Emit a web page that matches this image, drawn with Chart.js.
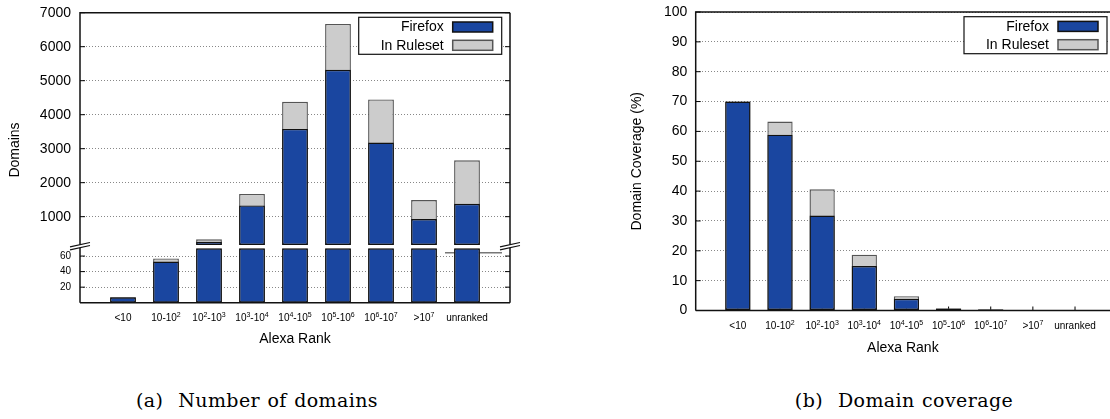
<!DOCTYPE html>
<html>
<head>
<meta charset="utf-8">
<script src="https://cdn.jsdelivr.net/npm/chart.js@4/dist/chart.umd.min.js"></script>
<style>
  body { margin: 0; width: 1110px; height: 419px; background: #fff; position: relative; overflow: hidden; }
  #left { position: absolute; left: 0; top: 0; width: 540px; height: 350px; }
  #right { position: absolute; left: 600px; top: 0; width: 510px; height: 360px; }
  .cap { position: absolute; top: 389px; font-family: 'DejaVu Serif', serif; font-size: 19px;
         letter-spacing: 0.4px; word-spacing: 1px; transform: translateX(-50%); white-space: pre; color: #000; }
</style>
</head>
<body>
<canvas id="left" width="540" height="350"></canvas>
<canvas id="right" width="510" height="360"></canvas>
<div class="cap" style="left:257px">(a)  Number of domains</div>
<div class="cap" style="left:904px">(b)  Domain coverage</div>
<script>
// categories
const RANKS = ['<10', '10-10²', '10²-10³', '10³-10⁴', '10⁴-10⁵', '10⁵-10⁶', '10⁶-10⁷', '>10⁷', 'unranked'];

// (a) number of domains
const firefoxDomains = [7, 53, 265, 1330, 3580, 5320, 3180, 930, 1380];
const rulesetDomains = [7, 57, 335, 1670, 4380, 6670, 4450, 1490, 2660];

// (b) domain coverage in %
const firefoxCoverage = [70, 58.9, 31.8, 14.9, 3.9, 0.6, 0.3, 0, 0];
const rulesetCoverage = [70, 63.3, 40.6, 18.7, 4.8, 0.75, 0.45, 0, 0];

// tick labels
const domainTicksHigh = [1000, 2000, 3000, 4000, 5000, 6000, 7000];
const domainTicksLow = [20, 40, 60];
const coverageTicks = [0, 10, 20, 30, 40, 50, 60, 70, 80, 90, 100];

// broken axis ranges
const LOW_MAX = 70;      // lower panel 0..70
const HIGH_MIN = 70;     // upper panel axis start
const HIGH_FLOOR = 170;  // where upper bars start
const HIGH_MAX = 7000;

const BLUE = '#1a46a0';
const GRAY = '#cccccc';
const SANS = "'Liberation Sans', Arial, sans-serif";
const SUP = { '²': '2', '³': '3', '⁴': '4', '⁵': '5', '⁶': '6', '⁷': '7' };

Chart.defaults.font.family = SANS;
Chart.defaults.color = '#000';
Chart.defaults.animation = false;

const lowPart = vals => vals.map((v, i) => ({ x: i, y: Math.min(v, LOW_MAX) }));
const highPart = vals => vals.map((v, i) => ({ x: i, y: v > HIGH_FLOOR ? [HIGH_FLOOR, v] : null }));
const points = vals => vals.map((v, i) => ({ x: i, y: v }));

const barStyle = (label, color, border) => ({
  label, backgroundColor: color, borderColor: border, borderWidth: 1.4,
  borderSkipped: false, grouped: false, barPercentage: 0.6, categoryPercentage: 1
});

// category label with real exponents: "10-10²" -> 10-10 + raised 2
function drawRankLabel(ctx, text, cx, baseline) {
  const runs = [];
  for (const ch of text) {
    const sup = ch in SUP;
    const last = runs[runs.length - 1];
    const c = sup ? SUP[ch] : ch;
    if (last && last.sup === sup) last.text += c;
    else runs.push({ sup, text: c });
  }
  const fontOf = r => (r.sup ? '7px ' : '10px ') + SANS;
  let w = 0;
  runs.forEach(r => { ctx.font = fontOf(r); r.w = ctx.measureText(r.text).width; w += r.w; });
  let x = cx - w / 2;
  ctx.textAlign = 'left';
  ctx.textBaseline = 'alphabetic';
  runs.forEach(r => {
    ctx.font = fontOf(r);
    ctx.fillText(r.text, x, baseline - (r.sup ? 4 : 0));
    x += r.w;
  });
}

// gnuplot-ish frame, inward tics, broken-axis marks, boxed legend
const framePlugin = {
  id: 'frame',
  beforeDatasetsDraw(chart, args, o) {
    const { ctx, chartArea: a } = chart;
    ctx.save();
    ctx.strokeStyle = '#000';
    ctx.lineWidth = 1;
    ctx.beginPath();
    Object.values(chart.scales).forEach(s => {
      s.ticks.forEach(t => {
        const p = s.getPixelForValue(t.value);
        if (s.axis === 'y') {
          ctx.moveTo(a.left, p); ctx.lineTo(a.left + 5, p);
          if (o.mirror) { ctx.moveTo(a.right, p); ctx.lineTo(a.right - 5, p); }
        } else {
          ctx.moveTo(p, a.bottom); ctx.lineTo(p, a.bottom - 4);
        }
      });
    });
    ctx.stroke();
    if (o.broken) {
      const yb = chart.scales.yLow.top;
      ctx.strokeStyle = '#777';
      ctx.lineWidth = 1.5;
      ctx.beginPath();
      ctx.moveTo(a.right - 65, yb + 4.4); ctx.lineTo(a.right - 8, yb + 4.4);
      ctx.stroke();
    }
    ctx.restore();
  },
  afterDatasetsDraw(chart, args, o) {
    const { ctx, chartArea: a } = chart;
    ctx.save();
    ctx.strokeStyle = '#111';
    ctx.lineWidth = 1.5;
    ctx.beginPath();
    ctx.moveTo(a.left, a.bottom); ctx.lineTo(a.left, a.top); ctx.lineTo(a.right, a.top);
    if (o.mirror) { ctx.moveTo(a.right, a.top); ctx.lineTo(a.right, a.bottom); }
    ctx.moveTo(a.left, a.bottom); ctx.lineTo(a.right, a.bottom);
    ctx.stroke();

    if (o.broken) {
      const yb = chart.scales.yLow.top;
      [a.left, a.right].forEach(x0 => {
        const x1 = x0 - 10, x2 = x0 + 10;
        ctx.fillStyle = '#fff';
        ctx.beginPath();
        ctx.moveTo(x1, yb - 1.5); ctx.lineTo(x2, yb - 5.8);
        ctx.lineTo(x2, yb - 2.8); ctx.lineTo(x1, yb + 1.5);
        ctx.closePath();
        ctx.fill();
        ctx.strokeStyle = '#111';
        ctx.lineWidth = 1.2;
        ctx.beginPath();
        ctx.moveTo(x1, yb - 1.5); ctx.lineTo(x2, yb - 5.8);
        ctx.moveTo(x1, yb + 1.5); ctx.lineTo(x2, yb - 2.8);
        ctx.stroke();
      });
    }

    // x category labels
    ctx.fillStyle = '#000';
    const xs = chart.scales.x;
    xs.ticks.forEach(t => drawRankLabel(ctx, RANKS[t.value], xs.getPixelForValue(t.value), a.bottom + o.labelDrop));

    if (o.yTitle) {
      ctx.font = '14px ' + SANS;
      ctx.textAlign = 'center';
      ctx.textBaseline = 'middle';
      ctx.translate(o.yTitle.x, o.yTitle.y);
      ctx.rotate(-Math.PI / 2);
      ctx.fillText(o.yTitle.text, 0, 0);
      ctx.setTransform(1, 0, 0, 1, 0, 0);
    }

    // legend: label then swatch, right aligned in a white box
    const seen = [];
    chart.data.datasets.forEach(ds => { if (!seen.find(s => s.label === ds.label)) seen.push(ds); });
    const right = a.right - o.legend.right, top = a.top + o.legend.top, w = 143, h = 37;
    ctx.fillStyle = '#fff';
    ctx.fillRect(right - w, top, w, h);
    ctx.strokeStyle = '#111';
    ctx.lineWidth = 1.2;
    ctx.strokeRect(right - w, top, w, h);
    ctx.font = '14px ' + SANS;
    ctx.textAlign = 'right';
    ctx.textBaseline = 'middle';
    seen.forEach((ds, i) => {
      const cy = top + 9.7 + i * 18.3;
      ctx.fillStyle = '#000';
      ctx.fillText(ds.label, right - 58, cy + 0.5);
      ctx.fillStyle = ds.backgroundColor;
      ctx.fillRect(right - 49, cy - 5, 40, 10);
      ctx.strokeStyle = ds.borderColor;
      ctx.lineWidth = 1.5;
      ctx.strokeRect(right - 49, cy - 5, 40, 10);
    });
    ctx.restore();
  }
};

const gridY = { color: '#888', lineWidth: 1, drawTicks: false };
const noPad = s => { s.paddingTop = 0; s.paddingBottom = 0; s.paddingLeft = 0; s.paddingRight = 0; };

const rankAxis = (height, titlePad) => ({
  type: 'linear', min: -1, max: 9, offset: false,
  grid: { display: false }, border: { display: false },
  afterBuildTicks: s => { s.ticks = RANKS.map((_, i) => ({ value: i })); },
  afterFit: s => { s.height = height; noPad(s); },
  ticks: { display: false, autoSkip: false, maxRotation: 0 },
  title: { display: true, text: 'Alexa Rank', font: { size: 14 }, padding: { top: 0, bottom: titlePad } }
});

new Chart(document.getElementById('left'), {
  type: 'bar',
  data: {
    datasets: [
      { ...barStyle('Firefox', BLUE, '#111'), yAxisID: 'yHigh', data: highPart(firefoxDomains) },
      { ...barStyle('In Ruleset', GRAY, '#555'), yAxisID: 'yHigh', data: highPart(rulesetDomains) },
      { ...barStyle('Firefox', BLUE, '#111'), yAxisID: 'yLow', data: lowPart(firefoxDomains) },
      { ...barStyle('In Ruleset', GRAY, '#555'), yAxisID: 'yLow', data: lowPart(rulesetDomains) }
    ]
  },
  options: {
    responsive: false,
    layout: { padding: { top: 12.7, right: 30, bottom: 0, left: 0 } },
    plugins: {
      legend: { display: false }, tooltip: { enabled: false },
      frame: { mirror: true, broken: true, labelDrop: 18.3, legend: { right: 8.3, top: 4.6 },
               yTitle: { text: 'Domains', x: 15, y: 150 } }
    },
    scales: {
      x: rankAxis(47.3, 2.6),
      yLow: {
        type: 'linear', position: 'left', stack: 'domains', stackWeight: 54.4, weight: 1,
        min: 0, max: LOW_MAX, grid: gridY, border: { display: false, dash: [1, 2] },
        afterBuildTicks: s => { s.ticks = domainTicksLow.map(v => ({ value: v })); },
        afterFit: s => { s.width = 80; noPad(s); },
        ticks: { callback: v => String(v), font: { size: 10 }, padding: 9 }
      },
      yHigh: {
        type: 'linear', position: 'left', stack: 'domains', stackWeight: 235.6, weight: 2,
        min: HIGH_MIN, max: HIGH_MAX, grid: gridY, border: { display: false, dash: [1, 2] },
        afterBuildTicks: s => { s.ticks = domainTicksHigh.map(v => ({ value: v })); },
        afterFit: s => { s.width = 80; noPad(s); },
        ticks: { callback: v => String(v), font: { size: 14 }, padding: 9 }
      }
    }
  },
  plugins: [framePlugin]
});

new Chart(document.getElementById('right'), {
  type: 'bar',
  data: {
    datasets: [
      { ...barStyle('Firefox', BLUE, '#111'), data: points(firefoxCoverage) },
      { ...barStyle('In Ruleset', GRAY, '#555'), data: points(rulesetCoverage) }
    ]
  },
  options: {
    responsive: false,
    layout: { padding: { top: 12, right: 0, bottom: 0, left: 0 } },
    plugins: {
      legend: { display: false }, tooltip: { enabled: false },
      frame: { mirror: false, broken: false, labelDrop: 18.8, legend: { right: 3, top: 4.7 } }
    },
    scales: {
      x: { ...rankAxis(49.5, 3.9), max: 8.83 },
      y: {
        type: 'linear', position: 'left', min: 0, max: 100,
        grid: gridY, border: { display: false, dash: [1, 2] },
        afterBuildTicks: s => { s.ticks = coverageTicks.map(v => ({ value: v })); },
        afterFit: s => { s.width = 95.7; noPad(s); },
        ticks: { callback: v => String(v), font: { size: 14 }, padding: 8.4 },
        title: { display: true, text: 'Domain Coverage (%)', font: { size: 14 }, padding: { top: 28.3, bottom: 0 } }
      }
    }
  },
  plugins: [framePlugin]
});
</script>
</body>
</html>
